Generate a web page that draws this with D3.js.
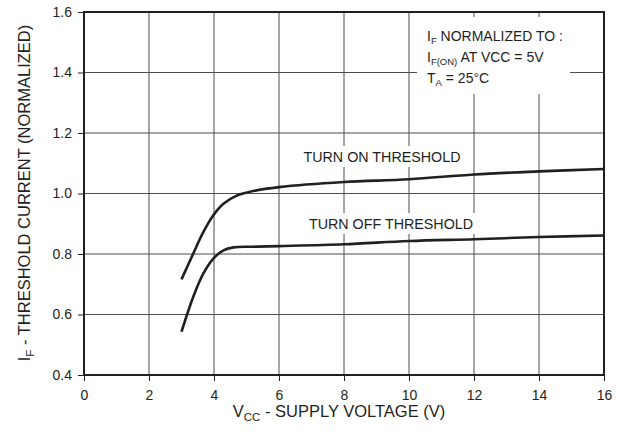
<!DOCTYPE html>
<html>
<head>
<meta charset="utf-8">
<script src="https://cdn.jsdelivr.net/npm/d3@7"></script>
<style>
  body { margin: 0; background: #fff; }
  text { font-family: "Liberation Sans", Arial, sans-serif; fill: #231f20; }
</style>
</head>
<body>
<script>
// values
const xTicks = [0, 2, 4, 6, 8, 10, 12, 14, 16];
const yTicks = [0.4, 0.6, 0.8, 1.0, 1.2, 1.4, 1.6];
const vccOn = [3, 3.36, 3.67, 3.98, 4.29, 4.7, 5.2, 6, 8, 10, 12, 14, 16];
const turnOn = [0.716, 0.801, 0.872, 0.928, 0.966, 0.993, 1.008, 1.021, 1.038, 1.047, 1.063, 1.073, 1.081];
const vccOff = [3, 3.36, 3.67, 3.98, 4.29, 4.6, 5.2, 6, 8, 10, 12, 14, 16];
const turnOff = [0.543, 0.658, 0.735, 0.785, 0.812, 0.822, 0.824, 0.826, 0.832, 0.843, 0.849, 0.856, 0.861];

const margin = {top: 12, right: 19, bottom: 65, left: 84},
      W = 623, H = 440,
      w = W - margin.left - margin.right,
      h = H - margin.top - margin.bottom;

const svg = d3.select("body").append("svg")
  .attr("width", W)
  .attr("height", H);

const x = d3.scaleLinear().domain([0, 16]).range([margin.left, margin.left + w]);
const y = d3.scaleLinear().domain([0.4, 1.6]).range([margin.top + h, margin.top]);

// grid
svg.append("g").selectAll("line")
  .data(xTicks.slice(1, -1))
  .enter().append("line")
  .attr("x1", d => x(d)).attr("x2", d => x(d))
  .attr("y1", y(1.6)).attr("y2", y(0.4))
  .attr("stroke", "#4d4d4f").attr("stroke-width", 1);

svg.append("g").selectAll("line")
  .data(yTicks.slice(1, -1))
  .enter().append("line")
  .attr("x1", x(0)).attr("x2", x(16))
  .attr("y1", d => y(d)).attr("y2", d => y(d))
  .attr("stroke", "#4d4d4f").attr("stroke-width", 1);

// axes
const xAxis = d3.axisBottom(x).tickValues(xTicks).tickSize(6).tickPadding(5).tickFormat(d3.format("d"));
const yAxis = d3.axisLeft(y).tickValues(yTicks).tickSize(6).tickPadding(6).tickFormat(d3.format(".1f"));

const gx = svg.append("g")
  .attr("transform", "translate(0," + y(0.4) + ")")
  .call(xAxis);
const gy = svg.append("g")
  .attr("transform", "translate(" + x(0) + ",0)")
  .call(yAxis);
[gx, gy].forEach(g => {
  g.select(".domain").remove();
  g.selectAll("line").attr("stroke", "#231f20");
  g.selectAll("text").style("font-size", "14px").attr("fill", "#231f20")
    .style("font-family", "'Liberation Sans', Arial, sans-serif");
});
gx.selectAll("text").attr("y", 25).attr("dy", 0);

// frame
svg.append("rect")
  .attr("x", x(0)).attr("y", y(1.6))
  .attr("width", x(16) - x(0)).attr("height", y(0.4) - y(1.6))
  .attr("fill", "none").attr("stroke", "#231f20").attr("stroke-width", 2);

// labels with white backgrounds
function boxed(g, pad) {
  const b = g.node().getBBox();
  g.insert("rect", ":first-child")
    .attr("x", b.x - pad[3]).attr("y", b.y - pad[0])
    .attr("width", b.width + pad[1] + pad[3])
    .attr("height", b.height + pad[0] + pad[2])
    .attr("fill", "#fff");
}

const onLbl = svg.append("g");
onLbl.append("text").attr("x", 382).attr("y", 162).attr("text-anchor", "middle")
  .style("font-size", "14.3px").text("TURN ON THRESHOLD");
boxed(onLbl, [3, 4, 2, 4]);

const offLbl = svg.append("g");
offLbl.append("text").attr("x", 391).attr("y", 229).attr("text-anchor", "middle")
  .style("font-size", "14.3px").text("TURN OFF THRESHOLD");
boxed(offLbl, [3, 4, 2, 4]);

// note box
const note = svg.append("g");
note.append("rect").attr("x", 417).attr("y", 17).attr("width", 153).attr("height", 77).attr("fill", "#fff");
const t1 = note.append("text").attr("x", 427).attr("y", 41).style("font-size", "14px");
t1.append("tspan").text("I");
t1.append("tspan").attr("dy", 3).style("font-size", "9.5px").text("F");
t1.append("tspan").attr("dy", -3).text(" NORMALIZED TO :");
const t2 = note.append("text").attr("x", 427).attr("y", 62).style("font-size", "14px");
t2.append("tspan").text("I");
t2.append("tspan").attr("dy", 3).style("font-size", "9.5px").text("F(ON)");
t2.append("tspan").attr("dy", -3).text(" AT VCC = 5V");
const t3 = note.append("text").attr("x", 427).attr("y", 83).style("font-size", "14px");
t3.append("tspan").text("T");
t3.append("tspan").attr("dy", 3).style("font-size", "9.5px").text("A");
t3.append("tspan").attr("dy", -3).text(" = 25°C");

// curves
const line = d3.line()
  .x(d => x(d[0]))
  .y(d => y(d[1]))
  .curve(d3.curveCatmullRom.alpha(0.5));

svg.append("path")
  .datum(d3.zip(vccOn, turnOn))
  .attr("d", line)
  .attr("fill", "none").attr("stroke", "#231f20").attr("stroke-width", 2.6);

svg.append("path")
  .datum(d3.zip(vccOff, turnOff))
  .attr("d", line)
  .attr("fill", "none").attr("stroke", "#231f20").attr("stroke-width", 2.6);

// axis titles
const xt = svg.append("text")
  .attr("x", 339).attr("y", 417)
  .attr("text-anchor", "middle")
  .style("font-size", "16.5px");
xt.append("tspan").text("V");
xt.append("tspan").attr("dy", 4).style("font-size", "11.5px").text("CC");
xt.append("tspan").attr("dy", -4).text(" - SUPPLY VOLTAGE (V)");

const yt = svg.append("text")
  .attr("transform", "rotate(-90)")
  .attr("x", -193).attr("y", 30)
  .attr("text-anchor", "middle")
  .style("font-size", "16.5px");
yt.append("tspan").text("I");
yt.append("tspan").attr("dy", 4).style("font-size", "11.5px").text("F");
yt.append("tspan").attr("dy", -4).text(" - THRESHOLD CURRENT (NORMALIZED)");
</script>
</body>
</html>
